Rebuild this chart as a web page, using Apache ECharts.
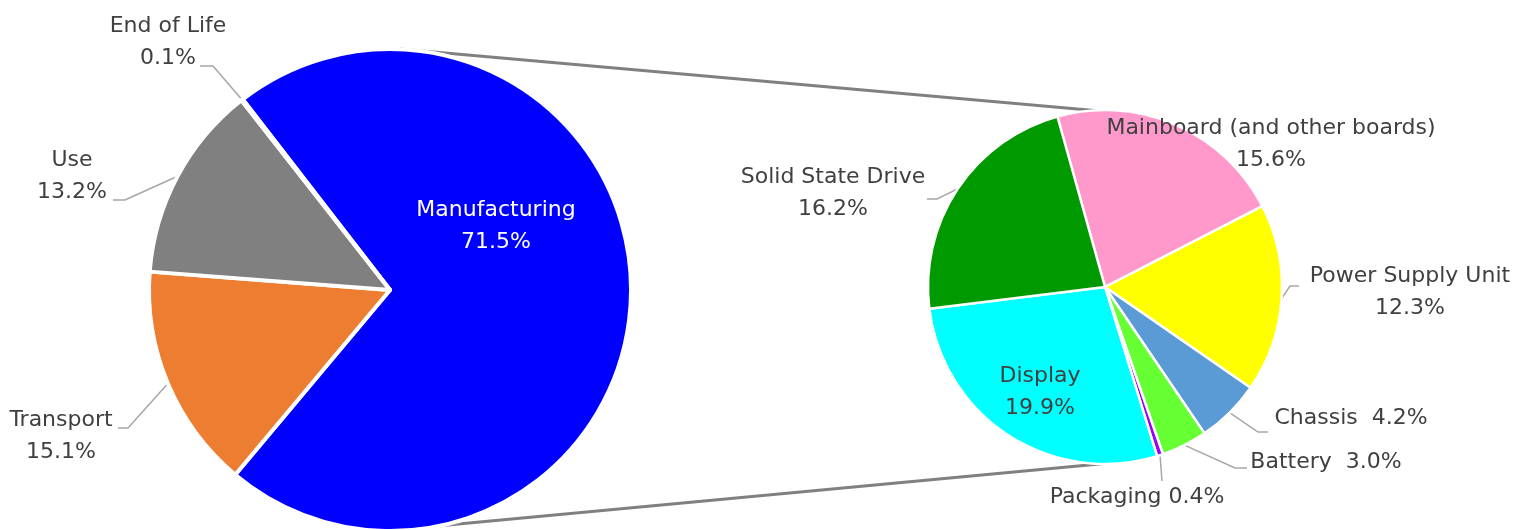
<!DOCTYPE html>
<html>
<head>
<meta charset="utf-8">
<script src="https://cdn.jsdelivr.net/npm/echarts@6/dist/echarts.min.js"></script>
<style>html,body{margin:0;padding:0;background:#fff}#c{width:1529px;height:530px}</style>
</head>
<body>
<div id="c"></div>
<script>
// Data
const mainNames = ['Manufacturing', 'Transport', 'Use', 'End of Life'];
const mainValues = [71.5, 15.1, 13.2, 0.1];
const subNames = ['Mainboard (and other boards)', 'Power Supply Unit', 'Chassis', 'Battery', 'Packaging', 'Display', 'Solid State Drive'];
const subValues = [15.6, 12.3, 4.2, 3.0, 0.4, 19.9, 16.2];

// Styles / layout
const mainColors = ['#0000FF', '#ED7D31', '#808080', '#FFC000'];
const subColors = ['#FF99CC', '#FFFF00', '#5B9BD5', '#66FF33', '#9900FF', '#00FFFF', '#009900'];
const mainCenter = [390, 290], mainR = 241;
const subCenter = [1105, 287], subR = 177;
const mainLabelPos = [[496, 226], [61, 436], [72, 176], [168, 42]];
const subLabelPos = [[1271, 144], [1410, 292], [1351, 418], [1326, 462], [1137, 497], [1040, 392], [833, 193]];
// leader line elbow and end points (null = no line)
const mainLeader = [null, [[128, 428], [118, 428]], [[125, 200], [113, 200]], [[213, 66], [200, 66]]];
const subLeader = [null, [[1290, 286], [1299, 286]], [[1258, 432], [1268, 432]], [[1235, 468], [1247, 468]], [[1162, 481], [1162, 481]], null, [[937, 199], [927, 199]]];
const singleLine = {'Chassis': 'Chassis  ', 'Battery': 'Battery  ', 'Packaging': 'Packaging '};
const insideNames = ['Manufacturing', 'Display'];

const fontFam = '"DejaVu Sans", sans-serif';
function fmt(p) {
  const v = p.value.toFixed(1) + '%';
  if (singleLine[p.name]) return singleLine[p.name] + v;
  return p.name + '\n' + v;
}
function mkData(names, values, colors, leaders) {
  return names.map((n, i) => ({
    name: n, value: values[i],
    itemStyle: { color: colors[i] },
    label: insideNames.includes(n) ? { color: n === 'Manufacturing' ? '#ffffff' : '#404040' } : {},
    labelLine: { show: !!leaders[i] }
  }));
}
function layoutFn(pos, leaders) {
  return function (params) {
    const p = pos[params.dataIndex];
    const out = { x: p[0], y: p[1], align: 'center', verticalAlign: 'middle', hideOverlap: false };
    const L = leaders[params.dataIndex];
    if (L && params.labelLinePoints) {
      out.labelLinePoints = [params.labelLinePoints[0], L[0], L[1]];
    }
    return out;
  };
}
const labelCommon = {
  show: true, position: 'outside', formatter: fmt, overflow: 'none', width: 400,
  fontFamily: fontFam, fontSize: 22, lineHeight: 32, color: '#404040'
};
const lineCommon = { show: true, length: 20, length2: 12, smooth: false, lineStyle: { color: '#A6A6A6', width: 1.5 } };
const chart = echarts.init(document.getElementById('c'));
chart.setOption({
  animation: false,
  graphic: [
    { type: 'line', z: 0, shape: { x1: mainCenter[0] + 10, y1: mainCenter[1] - mainR, x2: subCenter[0] - 5, y2: subCenter[1] - subR + 1 }, style: { stroke: '#808080', lineWidth: 3 } },
    { type: 'line', z: 0, shape: { x1: mainCenter[0] + 15, y1: mainCenter[1] + mainR - 2, x2: subCenter[0] + 5, y2: subCenter[1] + subR - 1 }, style: { stroke: '#808080', lineWidth: 3 } }
  ],
  series: [
    {
      type: 'pie', center: mainCenter, radius: mainR, startAngle: 127.7, clockwise: true,
      itemStyle: { borderColor: '#ffffff', borderWidth: 4 },
      label: labelCommon,
      labelLine: lineCommon,
      labelLayout: layoutFn(mainLabelPos, mainLeader),
      emphasis: { disabled: true },
      data: mkData(mainNames, mainValues, mainColors, mainLeader)
    },
    {
      type: 'pie', center: subCenter, radius: subR, startAngle: 105.6, clockwise: true,
      itemStyle: { borderColor: '#ffffff', borderWidth: 2.5 },
      label: labelCommon,
      labelLine: lineCommon,
      labelLayout: layoutFn(subLabelPos, subLeader),
      emphasis: { disabled: true },
      data: mkData(subNames, subValues, subColors, subLeader)
    }
  ]
});
</script>
</body>
</html>
